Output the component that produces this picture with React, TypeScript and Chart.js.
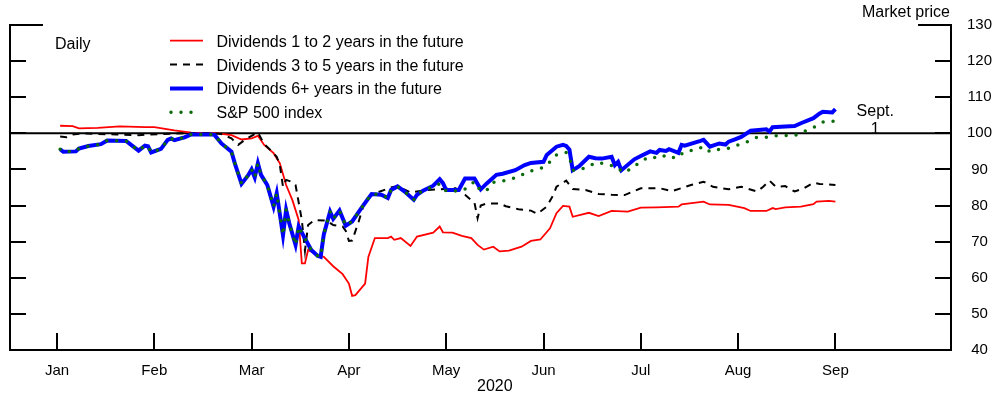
import { useEffect, useRef } from "react";
import { Chart, registerables } from "chart.js";

Chart.register(...registerables);

const FONT = "'Liberation Sans', Arial, Helvetica, sans-serif";

const MONTH_LABELS = ["Jan", "Feb", "Mar", "Apr", "May", "Jun", "Jul", "Aug", "Sep"];
const DAYS_IN_MONTH = [31, 29, 31, 30, 31, 30, 31, 31, 30];
const Y_MIN = 40;
const Y_MAX = 130;
const Y_STEP = 10;
const REFERENCE_LEVEL = 100;
const X_MIN = -0.483;
const X_MAX = 9.188;
const YEAR_LABEL = "2020";
const YEAR_LABEL_POS = 4.5;
const SEPT_LABEL_POS = 8.41;

const SERIES_LABELS = [
  "Dividends 1 to 2 years in the future",
  "Dividends 3 to 5 years in the future",
  "Dividends 6+ years in the future",
  "S&P 500 index",
];

// Dividends 1 to 2 years in the future
const redDates = [
  "1-2", "1-6", "1-8", "1-14", "1-21", "1-29", "2-1", "2-7", "2-12", "2-20", "2-24", "2-27",
  "3-1", "3-3", "3-5", "3-8", "3-10", "3-12", "3-14", "3-16", "3-17", "3-18", "3-19", "3-22",
  "3-24", "3-27", "3-30", "4-1", "4-2", "4-3", "4-6", "4-7", "4-9", "4-13", "4-14", "4-15",
  "4-17", "4-20", "4-22", "4-27", "4-29", "4-30", "5-3", "5-6", "5-9", "5-11", "5-13", "5-16",
  "5-18", "5-21", "5-25", "5-28", "5-31", "6-3", "6-5", "6-7", "6-9", "6-10", "6-15", "6-18",
  "6-22", "6-27", "7-1", "7-6", "7-13", "7-14", "7-21", "7-23", "7-29", "8-3", "8-5", "8-10",
  "8-12", "8-13", "8-16", "8-21", "8-25", "8-26", "8-30", "9-1",
];
const redValues = [
  102.1, 102.0, 101.4, 101.5, 101.9, 101.7, 101.7, 100.8, 100.2, 100.0, 99.5, 98.3,
  98.6, 99.3, 96.8, 94.5, 91.7, 85.7, 81.5, 76.0, 64.0, 64.0, 67.7, 66.3,
  65.8, 63.2, 61.0, 58.4, 55.0, 55.2, 58.4, 65.8, 71.0, 71.0, 71.4, 70.5,
  71.0, 68.8, 71.4, 72.5, 74.2, 72.6, 72.5, 71.6, 71.0, 69.1, 67.8, 68.6,
  67.3, 67.5, 68.6, 70.2, 70.6, 73.7, 77.9, 79.9, 79.7, 76.9, 78.0, 77.1,
  78.5, 78.3, 79.4, 79.5, 79.7, 80.3, 81.1, 80.3, 80.2, 79.3, 78.5, 78.5,
  79.3, 79.0, 79.5, 79.7, 80.4, 81.1, 81.3, 81.1,
];

// Dividends 3 to 5 years in the future
const blackDates = [
  "1-2", "1-4", "1-6", "1-9", "1-14", "1-20", "1-27", "2-3", "2-10", "2-18", "2-21", "2-24",
  "2-26", "2-28", "3-1", "3-3", "3-5", "3-7", "3-9", "3-10", "3-11", "3-12", "3-14", "3-15",
  "3-17", "3-18", "3-19", "3-21", "3-25", "3-27", "3-30", "3-31", "4-1", "4-2", "4-4", "4-6",
  "4-9", "4-14", "4-16", "4-20", "4-25", "4-29", "5-4", "5-7", "5-9", "5-10", "5-11", "5-12",
  "5-14", "5-18", "5-20", "5-24", "5-28", "5-30", "6-2", "6-4", "6-5", "6-8", "6-10", "6-14",
  "6-18", "6-22", "6-26", "7-1", "7-7", "7-11", "7-17", "7-21", "7-24", "7-29", "8-2", "8-7",
  "8-9", "8-11", "8-13", "8-16", "8-19", "8-22", "8-25", "8-27", "9-1",
];
const blackValues = [
  99.1, 98.9, 99.7, 100.0, 99.8, 99.7, 99.5, 99.8, 100.0, 100.0, 99.8, 98.6,
  96.8, 98.2, 99.3, 100.3, 97.0, 95.4, 93.5, 91.2, 85.2, 87.1, 86.5, 85.7,
  76.0, 67.5, 74.6, 76.0, 75.8, 74.6, 74.2, 73.0, 70.2, 70.3, 75.5, 81.5,
  83.4, 85.0, 85.4, 83.6, 84.3, 84.5, 84.8, 83.0, 81.5, 80.8, 76.5, 80.0,
  80.6, 80.6, 79.8, 79.0, 78.6, 77.7, 79.7, 82.9, 85.2, 86.9, 84.6, 84.3,
  83.2, 83.0, 82.9, 84.8, 84.8, 84.0, 85.7, 86.6, 85.2, 84.5, 85.2, 83.9,
  85.2, 86.9, 85.2, 85.4, 83.9, 84.8, 86.3, 86.0, 85.7,
];

// Dividends 6+ years in the future
const blueDates = [
  "1-2", "1-3", "1-7", "1-8", "1-11", "1-15", "1-17", "1-23", "1-27", "1-29", "1-30", "1-31",
  "2-3", "2-5", "2-6", "2-7", "2-10", "2-12", "2-18", "2-19", "2-21", "2-24", "2-25", "2-27",
  "2-29", "3-1", "3-2", "3-3", "3-4", "3-6", "3-8", "3-9", "3-11", "3-12", "3-13", "3-15",
  "3-16", "3-18", "3-20", "3-22", "3-23", "3-24", "3-26", "3-27", "3-29", "3-31", "4-2", "4-5",
  "4-7", "4-8", "4-11", "4-13", "4-14", "4-16", "4-18", "4-21", "4-22", "4-24", "4-27", "4-29",
  "4-30", "5-1", "5-5", "5-7", "5-10", "5-12", "5-14", "5-17", "5-19", "5-23", "5-26", "5-28",
  "6-1", "6-2", "6-5", "6-7", "6-8", "6-9", "6-10", "6-12", "6-15", "6-17", "6-19", "6-22",
  "6-23", "6-24", "6-25", "6-29", "7-1", "7-4", "7-6", "7-7", "7-9", "7-10", "7-13", "7-14",
  "7-15", "7-20", "7-21", "7-23", "7-26", "7-28", "7-29", "7-31", "8-2", "8-5", "8-10", "8-11",
  "8-12", "8-16", "8-19", "8-21", "8-25", "8-27", "8-28", "8-31", "9-1",
];
const blueValues = [
  95.6, 94.9, 95.0, 95.8, 96.5, 97.0, 98.0, 97.9, 95.2, 96.6, 96.4, 94.7,
  95.7, 98.2, 98.6, 98.1, 98.9, 99.7, 99.7, 99.5, 97.2, 94.9, 91.7, 86.0,
  88.4, 90.0, 87.8, 91.7, 88.5, 85.7, 79.7, 83.4, 71.8, 78.8, 75.1, 69.1,
  74.2, 70.9, 67.7, 66.1, 65.8, 72.0, 78.3, 76.3, 78.6, 74.4, 75.6, 79.5,
  82.0, 83.2, 83.0, 82.1, 84.3, 85.3, 84.0, 81.6, 83.0, 84.2, 85.5, 87.3,
  86.2, 84.3, 84.3, 87.5, 87.5, 84.5, 86.2, 88.5, 88.8, 89.8, 91.2, 91.8,
  92.1, 94.0, 96.3, 96.8, 96.5, 95.5, 89.8, 90.9, 93.5, 93.1, 93.0, 93.5,
  91.2, 92.1, 89.8, 92.8, 93.7, 95.0, 94.6, 95.4, 95.1, 95.6, 94.6, 96.8,
  96.6, 97.9, 98.2, 96.3, 97.2, 96.9, 97.7, 98.3, 99.0, 100.7, 101.1, 100.5,
  101.7, 101.9, 102.0, 102.8, 104.2, 105.5, 106.0, 105.8, 106.7,
];

// S&P 500 index
const spDates = [
  "1-2", "1-3", "1-7", "1-8", "1-11", "1-15", "1-17", "1-23", "1-27", "1-29", "1-30", "1-31",
  "2-3", "2-5", "2-6", "2-7", "2-10", "2-12", "2-18", "2-19", "2-21", "2-24", "2-25", "2-27",
  "2-29", "3-1", "3-2", "3-3", "3-4", "3-6", "3-8", "3-9", "3-11", "3-12", "3-13", "3-15",
  "3-16", "3-18", "3-20", "3-22", "3-23", "3-24", "3-26", "3-27", "3-29", "3-31", "4-2", "4-5",
  "4-7", "4-8", "4-11", "4-13", "4-14", "4-16", "4-18", "4-21", "4-22", "4-24", "4-27", "4-29",
  "5-1", "5-5", "5-7", "5-10", "5-12", "5-14", "5-16", "5-19", "5-21", "5-24", "5-27", "5-30",
  "6-1", "6-3", "6-5", "6-8", "6-9", "6-10", "6-12", "6-15", "6-17", "6-20", "6-23", "6-26",
  "6-29", "7-1", "7-4", "7-7", "7-9", "7-12", "7-15", "7-18", "7-21", "7-23", "7-26", "7-29",
  "8-1", "8-4", "8-7", "8-10", "8-12", "8-16", "8-19", "8-22", "8-25", "8-28", "8-31", "9-1",
];
const spValues = [
  95.6, 94.9, 95.0, 95.8, 96.5, 97.0, 98.0, 97.9, 95.2, 96.6, 96.4, 94.7,
  95.7, 98.2, 98.6, 98.1, 98.9, 99.7, 99.7, 99.5, 97.2, 94.9, 91.7, 86.0,
  88.4, 90.0, 87.8, 91.7, 88.5, 85.7, 79.7, 83.4, 71.8, 78.8, 75.1, 69.1,
  74.2, 70.9, 67.7, 66.1, 65.8, 72.0, 78.3, 76.3, 78.6, 74.4, 75.6, 79.5,
  82.0, 83.2, 83.0, 82.1, 84.3, 85.3, 84.0, 81.6, 83.0, 84.2, 85.3, 86.0,
  84.0, 84.0, 84.6, 86.6, 84.0, 84.3, 86.4, 86.8, 87.1, 88.0, 89.4, 90.0,
  90.6, 92.1, 94.0, 94.7, 93.5, 89.8, 89.8, 90.9, 91.9, 91.6, 90.8, 89.1,
  90.8, 92.3, 93.5, 93.1, 94.0, 93.1, 94.9, 95.4, 96.3, 94.9, 95.6, 95.9,
  96.8, 97.7, 98.9, 98.9, 99.3, 99.4, 99.4, 100.5, 101.6, 103.1, 103.3, 103.6,
];

function toMonthPos(d: string): number {
  const [m, day] = d.split("-").map(Number);
  return m - 1 + (day - 1) / DAYS_IN_MONTH[m - 1];
}

function toPoints(dates: string[], values: number[]) {
  return dates.map((d, i) => ({ x: toMonthPos(d), y: values[i] }));
}

const decorPlugin = {
  id: "decor",
  beforeDatasetsDraw(chart: any) {
    const { ctx, chartArea } = chart;
    const y = chart.scales.y;
    const py = y.getPixelForValue(REFERENCE_LEVEL);
    ctx.save();
    ctx.strokeStyle = "#000";
    ctx.lineWidth = 2;
    ctx.beginPath();
    ctx.moveTo(chartArea.left, py);
    ctx.lineTo(chartArea.right, py);
    ctx.stroke();
    ctx.restore();
  },
  afterDraw(chart: any) {
    const { ctx, chartArea } = chart;
    const x = chart.scales.x;
    const y = chart.scales.y;
    ctx.save();
    ctx.strokeStyle = "#000";
    ctx.lineWidth = 2;
    ctx.lineCap = "butt";
    // inward x ticks
    MONTH_LABELS.forEach((_, i) => {
      const px = Math.round(x.getPixelForValue(i));
      ctx.beginPath();
      ctx.moveTo(px, chartArea.bottom);
      ctx.lineTo(px, chartArea.bottom - 17);
      ctx.stroke();
    });
    // inward y ticks, left and right
    for (let v = Y_MIN + Y_STEP; v <= Y_MAX; v += Y_STEP) {
      const py = Math.round(y.getPixelForValue(v));
      const len = v === Y_MAX ? 33 : 16;
      ctx.beginPath();
      ctx.moveTo(chartArea.left, py);
      ctx.lineTo(chartArea.left + len, py);
      ctx.moveTo(chartArea.right, py);
      ctx.lineTo(chartArea.right - len, py);
      ctx.stroke();
    }
    ctx.restore();

    // texts
    ctx.save();
    ctx.fillStyle = "#000";
    ctx.font = `16px ${FONT}`;
    ctx.textBaseline = "alphabetic";
    ctx.textAlign = "left";
    ctx.fillText("Daily", 55, 49);
    ctx.textAlign = "right";
    ctx.fillText("Market price", chartArea.right - 1, 17);
    ctx.textAlign = "center";
    ctx.fillText(YEAR_LABEL, x.getPixelForValue(YEAR_LABEL_POS), 390.5);
    const sx = x.getPixelForValue(SEPT_LABEL_POS);
    ctx.fillText("Sept.", sx, 115.5);
    ctx.fillText("1", sx, 134);

    // legend
    const datasets = chart.data.datasets;
    datasets.forEach((ds: any, i: number) => {
      const base = 46.6 + i * 23.9;
      const ly = base - 6;
      ctx.save();
      ctx.strokeStyle = ds.borderColor;
      ctx.lineWidth = ds.borderWidth;
      ctx.setLineDash(ds.borderDash || []);
      ctx.lineCap = ds.borderCapStyle || "butt";
      ctx.beginPath();
      if (ds.borderCapStyle === "round") {
        ctx.moveTo(171, ly);
        ctx.lineTo(193, ly);
      } else {
        ctx.moveTo(170, ly);
        ctx.lineTo(203, ly);
      }
      ctx.stroke();
      ctx.restore();
      ctx.textAlign = "left";
      ctx.fillText(ds.label, 216.5, base);
    });
    ctx.restore();
  },
};

export default function App() {
  const canvasRef = useRef<HTMLCanvasElement | null>(null);

  useEffect(() => {
    if (!canvasRef.current) return;
    const chart = new Chart(canvasRef.current, {
      type: "line",
      data: {
        datasets: [
          {
            label: SERIES_LABELS[0],
            data: toPoints(redDates, redValues),
            borderColor: "#ff0000",
            borderWidth: 1.8,
            pointRadius: 0,
            tension: 0,
            order: 3,
          },
          {
            label: SERIES_LABELS[1],
            data: toPoints(blackDates, blackValues),
            borderColor: "#000000",
            borderWidth: 2,
            borderDash: [7, 6],
            pointRadius: 0,
            tension: 0,
            order: 2,
          },
          {
            label: SERIES_LABELS[2],
            data: toPoints(blueDates, blueValues),
            borderColor: "#0000ff",
            borderWidth: 4,
            pointRadius: 0,
            tension: 0,
            order: 1,
          },
          {
            label: SERIES_LABELS[3],
            data: toPoints(spDates, spValues),
            borderColor: "#0b6a0b",
            borderWidth: 3.5,
            borderDash: [0, 10],
            borderCapStyle: "round",
            pointRadius: 0,
            tension: 0,
            order: 0,
          },
        ] as any,
      },
      options: {
        responsive: false,
        animation: false,
        maintainAspectRatio: false,
        layout: { padding: { top: 25, left: 0, right: 0, bottom: 0 } },
        plugins: {
          legend: { display: false },
          tooltip: { enabled: false },
        },
        scales: {
          x: {
            type: "linear",
            position: "bottom",
            min: X_MIN,
            max: X_MAX,
            afterBuildTicks: (scale: any) => {
              scale.ticks = MONTH_LABELS.map((_, i) => ({ value: i }));
            },
            afterFit: (scale: any) => {
              scale.height = 47;
            },
            grid: { display: false, drawTicks: false },
            border: { display: true, color: "#000", width: 2 },
            ticks: {
              autoSkip: false,
              maxRotation: 0,
              padding: 12,
              color: "#000",
              font: { family: FONT, size: 15 },
              callback: (v: any) => MONTH_LABELS[Number(v)] ?? "",
            },
          },
          yL: {
            type: "linear",
            position: "left",
            min: Y_MIN,
            max: Y_MAX,
            afterFit: (scale: any) => {
              scale.width = 10;
            },
            grid: { display: false, drawTicks: false },
            border: { display: true, color: "#000", width: 2 },
            ticks: { display: false },
          },
          y: {
            type: "linear",
            position: "right",
            min: Y_MIN,
            max: Y_MAX,
            afterFit: (scale: any) => {
              scale.width = 49;
            },
            grid: { display: false, drawTicks: false },
            border: { display: true, color: "#000", width: 2 },
            ticks: {
              stepSize: Y_STEP,
              padding: 16,
              crossAlign: "center",
              color: "#000",
              font: { family: FONT, size: 15 },
            },
          },
        },
      } as any,
      plugins: [decorPlugin],
    });
    return () => chart.destroy();
  }, []);

  return (
    <div style={{ position: "absolute", left: 0, top: 0, width: 1000, height: 397 }}>
      <canvas ref={canvasRef} width={1000} height={397} />
    </div>
  );
}
